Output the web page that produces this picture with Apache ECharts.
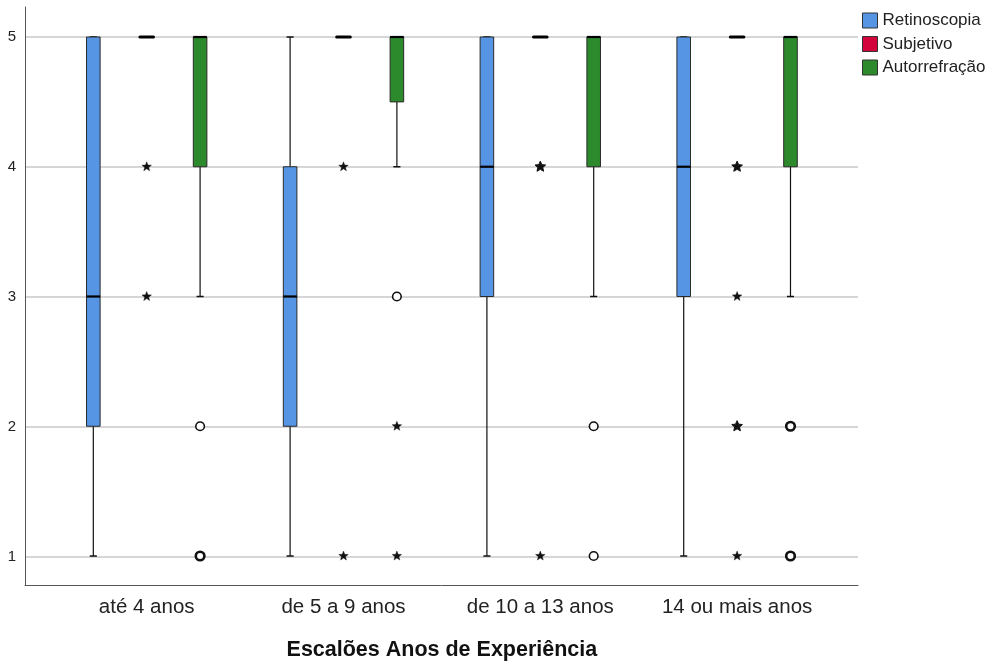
<!DOCTYPE html>
<html>
<head>
<meta charset="utf-8">
<script src="https://cdn.jsdelivr.net/npm/echarts@6/dist/echarts.min.js"></script>
<style>
  html, body { margin: 0; padding: 0; background: #fff; }
  #chart { width: 988px; height: 666px; }
</style>
</head>
<body>
<div id="chart"></div>
<script>
// Experience bands on the category axis
const categories = ['até 4 anos', 'de 5 a 9 anos', 'de 10 a 13 anos', '14 ou mais anos'];
const measures = ['Retinoscopia', 'Subjetivo', 'Autorrefração'];
const yTicks = [1, 2, 3, 4, 5];

// Box summaries per band: [min, Q1, median, Q3, max]
const retinoscopiaBoxes = [
  [1, 2, 3, 5, 5],
  [1, 2, 3, 4, 5],
  [1, 3, 4, 5, 5],
  [1, 3, 4, 5, 5]
];
const subjetivoBoxes = [
  [5, 5, 5, 5, 5],
  [5, 5, 5, 5, 5],
  [5, 5, 5, 5, 5],
  [5, 5, 5, 5, 5]
];
const autorrefracaoBoxes = [
  [3, 4, 5, 5, 5],
  [4, 4.5, 5, 5, 5],
  [3, 4, 5, 5, 5],
  [3, 4, 5, 5, 5]
];

// Outlying cases: [band index, value, kind ('o' = outlier, '*' = extreme), cases at that spot]
const retinoscopiaOutliers = [];
const subjetivoOutliers = [
  [0, 4, '*', 1], [0, 3, '*', 1],
  [1, 4, '*', 1], [1, 1, '*', 1],
  [2, 4, '*', 2], [2, 1, '*', 1],
  [3, 4, '*', 2], [3, 3, '*', 1], [3, 2, '*', 2], [3, 1, '*', 1]
];
const autorrefracaoOutliers = [
  [0, 2, 'o', 1], [0, 1, 'o', 2],
  [1, 3, 'o', 1], [1, 2, '*', 1], [1, 1, '*', 1],
  [2, 2, 'o', 1], [2, 1, 'o', 1],
  [3, 2, 'o', 2], [3, 1, 'o', 2]
];

const colors = ['#5595E4', '#D3043B', '#2C8A2C'];
const offsets = [-0.2713, 0, 0.2713];   // share of the band width
const boxShare = 0.069;
const capShare = 0.036;
const FONT = '"Liberation Sans", Arial, sans-serif';

function boxRenderer(seriesIdx) {
  return function (params, api) {
    const band = api.size([1, 0])[0];
    const gi = api.value(0);
    const vals = [api.value(1), api.value(2), api.value(3), api.value(4), api.value(5)];
    const base = api.coord([gi, vals[2]]);
    const cx = base[0] + offsets[seriesIdx] * band;
    const half = boxShare * band / 2;
    const capHalf = capShare * band / 2;
    const y = vals.map(v => api.coord([gi, v])[1]);
    const line = { stroke: '#111', lineWidth: 1.2 };
    const kids = [];
    if (vals[0] < vals[1]) {
      kids.push({ type: 'line', shape: { x1: cx, y1: y[1], x2: cx, y2: y[0] }, style: line });
    }
    if (vals[4] > vals[3]) {
      kids.push({ type: 'line', shape: { x1: cx, y1: y[3], x2: cx, y2: y[4] }, style: line });
    }
    if (vals[0] < vals[4]) {
      kids.push({ type: 'line', shape: { x1: cx - capHalf, y1: y[0], x2: cx + capHalf, y2: y[0] }, style: { stroke: '#111', lineWidth: 1.5 } });
      kids.push({ type: 'line', shape: { x1: cx - capHalf, y1: y[4], x2: cx + capHalf, y2: y[4] }, style: { stroke: '#111', lineWidth: 1.5 } });
    }
    kids.push({
      type: 'rect',
      shape: { x: cx - half, y: y[3], width: half * 2, height: y[1] - y[3] },
      style: { fill: colors[seriesIdx], stroke: '#2a2a2a', lineWidth: 1 }
    });
    kids.push({
      type: 'line',
      shape: { x1: cx - half, y1: y[2], x2: cx + half, y2: y[2] },
      style: { stroke: '#000', lineWidth: vals[1] === vals[3] ? 3 : 2.2, lineCap: vals[1] === vals[3] ? 'round' : 'butt' }
    });
    return { type: 'group', children: kids };
  };
}

function starPoints(cx, cy, ro, ri) {
  const pts = [];
  for (let k = 0; k < 10; k++) {
    const r = k % 2 === 0 ? ro : ri;
    const a = -Math.PI / 2 + k * Math.PI / 5;
    pts.push([cx + r * Math.cos(a), cy + r * Math.sin(a)]);
  }
  return pts;
}

function outlierRenderer(seriesIdx) {
  return function (params, api) {
    const band = api.size([1, 0])[0];
    const gi = api.value(0);
    const p = api.coord([gi, api.value(1)]);
    const cx = p[0] + offsets[seriesIdx] * band;
    const kind = api.value(2);
    const heavy = api.value(3) > 1;
    if (kind === 'o') {
      return {
        type: 'circle',
        shape: { cx: cx, cy: p[1], r: 4.3 },
        style: { fill: '#fff', stroke: '#111', lineWidth: heavy ? 2.6 : 1.6 }
      };
    }
    return {
      type: 'polygon',
      shape: { points: starPoints(cx, p[1], heavy ? 5.6 : 5.0, heavy ? 2.6 : 2.1) },
      style: { fill: '#111', stroke: '#111', lineWidth: heavy ? 1 : 0.4 }
    };
  };
}

const boxSets = [retinoscopiaBoxes, subjetivoBoxes, autorrefracaoBoxes];
const outlierSets = [retinoscopiaOutliers, subjetivoOutliers, autorrefracaoOutliers];

const series = [];
measures.forEach(function (name, i) {
  series.push({
    name: name,
    type: 'custom',
    xAxisIndex: 1,
    yAxisIndex: 1,
    clip: false,
    silent: true,
    itemStyle: { color: colors[i] },
    dimensions: ['band', 'min', 'q1', 'median', 'q3', 'max'],
    encode: { x: 0, y: [1, 2, 3, 4, 5] },
    data: boxSets[i].map((b, gi) => [gi].concat(b)),
    renderItem: boxRenderer(i),
    z: 3
  });
});
measures.forEach(function (name, i) {
  series.push({
    name: name,
    type: 'custom',
    xAxisIndex: 1,
    yAxisIndex: 1,
    clip: false,
    silent: true,
    itemStyle: { color: colors[i] },
    dimensions: ['band', 'value', { name: 'kind', type: 'ordinal' }, 'cases'],
    encode: { x: 0, y: 1 },
    data: outlierSets[i],
    renderItem: outlierRenderer(i),
    z: 4
  });
});

const chart = echarts.init(document.getElementById('chart'), null, { renderer: 'canvas' });
chart.setOption({
  animation: false,
  backgroundColor: '#fff',
  textStyle: { fontFamily: FONT },
  legend: {
    data: measures.map((m, i) => ({ name: m, icon: 'rect', itemStyle: { color: colors[i], borderColor: '#333', borderWidth: 1 } })),
    orient: 'vertical',
    left: 862,
    top: 12,
    padding: 0,
    itemWidth: 15,
    itemHeight: 15,
    itemGap: 6.5,
    selectedMode: false,
    textStyle: { fontFamily: FONT, fontSize: 17, lineHeight: 15, color: '#222' }
  },
  grid: [
    // value scale with gridlines
    { left: 25, right: 130, top: 37, bottom: 109 },
    // data band layout
    { left: 48.3, right: 152.5, top: 37, bottom: 109 },
    // outer frame
    { left: 25, right: 130, top: 7, bottom: 81 }
  ],
  xAxis: [
    { gridIndex: 0, type: 'value', show: false, min: 0, max: 1 },
    {
      gridIndex: 1, type: 'category', data: categories,
      axisLine: { show: false }, axisTick: { show: false }, splitLine: { show: false },
      axisLabel: { fontSize: 20.5, color: '#222', margin: 41, fontFamily: FONT },
      name: 'Escalões Anos de Experiência',
      nameLocation: 'middle',
      nameGap: 83,
      nameTextStyle: { fontSize: 21.5, fontWeight: 'bold', color: '#111', fontFamily: FONT }
    },
    {
      gridIndex: 2, type: 'value', min: 0, max: 1,
      axisLine: { show: true, lineStyle: { color: '#555', width: 1 } },
      axisTick: { show: false }, axisLabel: { show: false }, splitLine: { show: false }
    }
  ],
  yAxis: [
    {
      gridIndex: 0, type: 'value', min: yTicks[0], max: yTicks[yTicks.length - 1], interval: 1,
      axisLine: { show: false }, axisTick: { show: false },
      axisLabel: { fontSize: 15, color: '#222', margin: 9, fontFamily: FONT },
      splitLine: { show: true, lineStyle: { color: '#c9c9c9', width: 1.5 } }
    },
    { gridIndex: 1, type: 'value', min: yTicks[0], max: yTicks[yTicks.length - 1], show: false },
    {
      gridIndex: 2, type: 'value', min: 0, max: 1,
      axisLine: { show: true, lineStyle: { color: '#555', width: 1 } },
      axisTick: { show: false }, axisLabel: { show: false }, splitLine: { show: false }
    }
  ],
  series: series
});
</script>
</body>
</html>
